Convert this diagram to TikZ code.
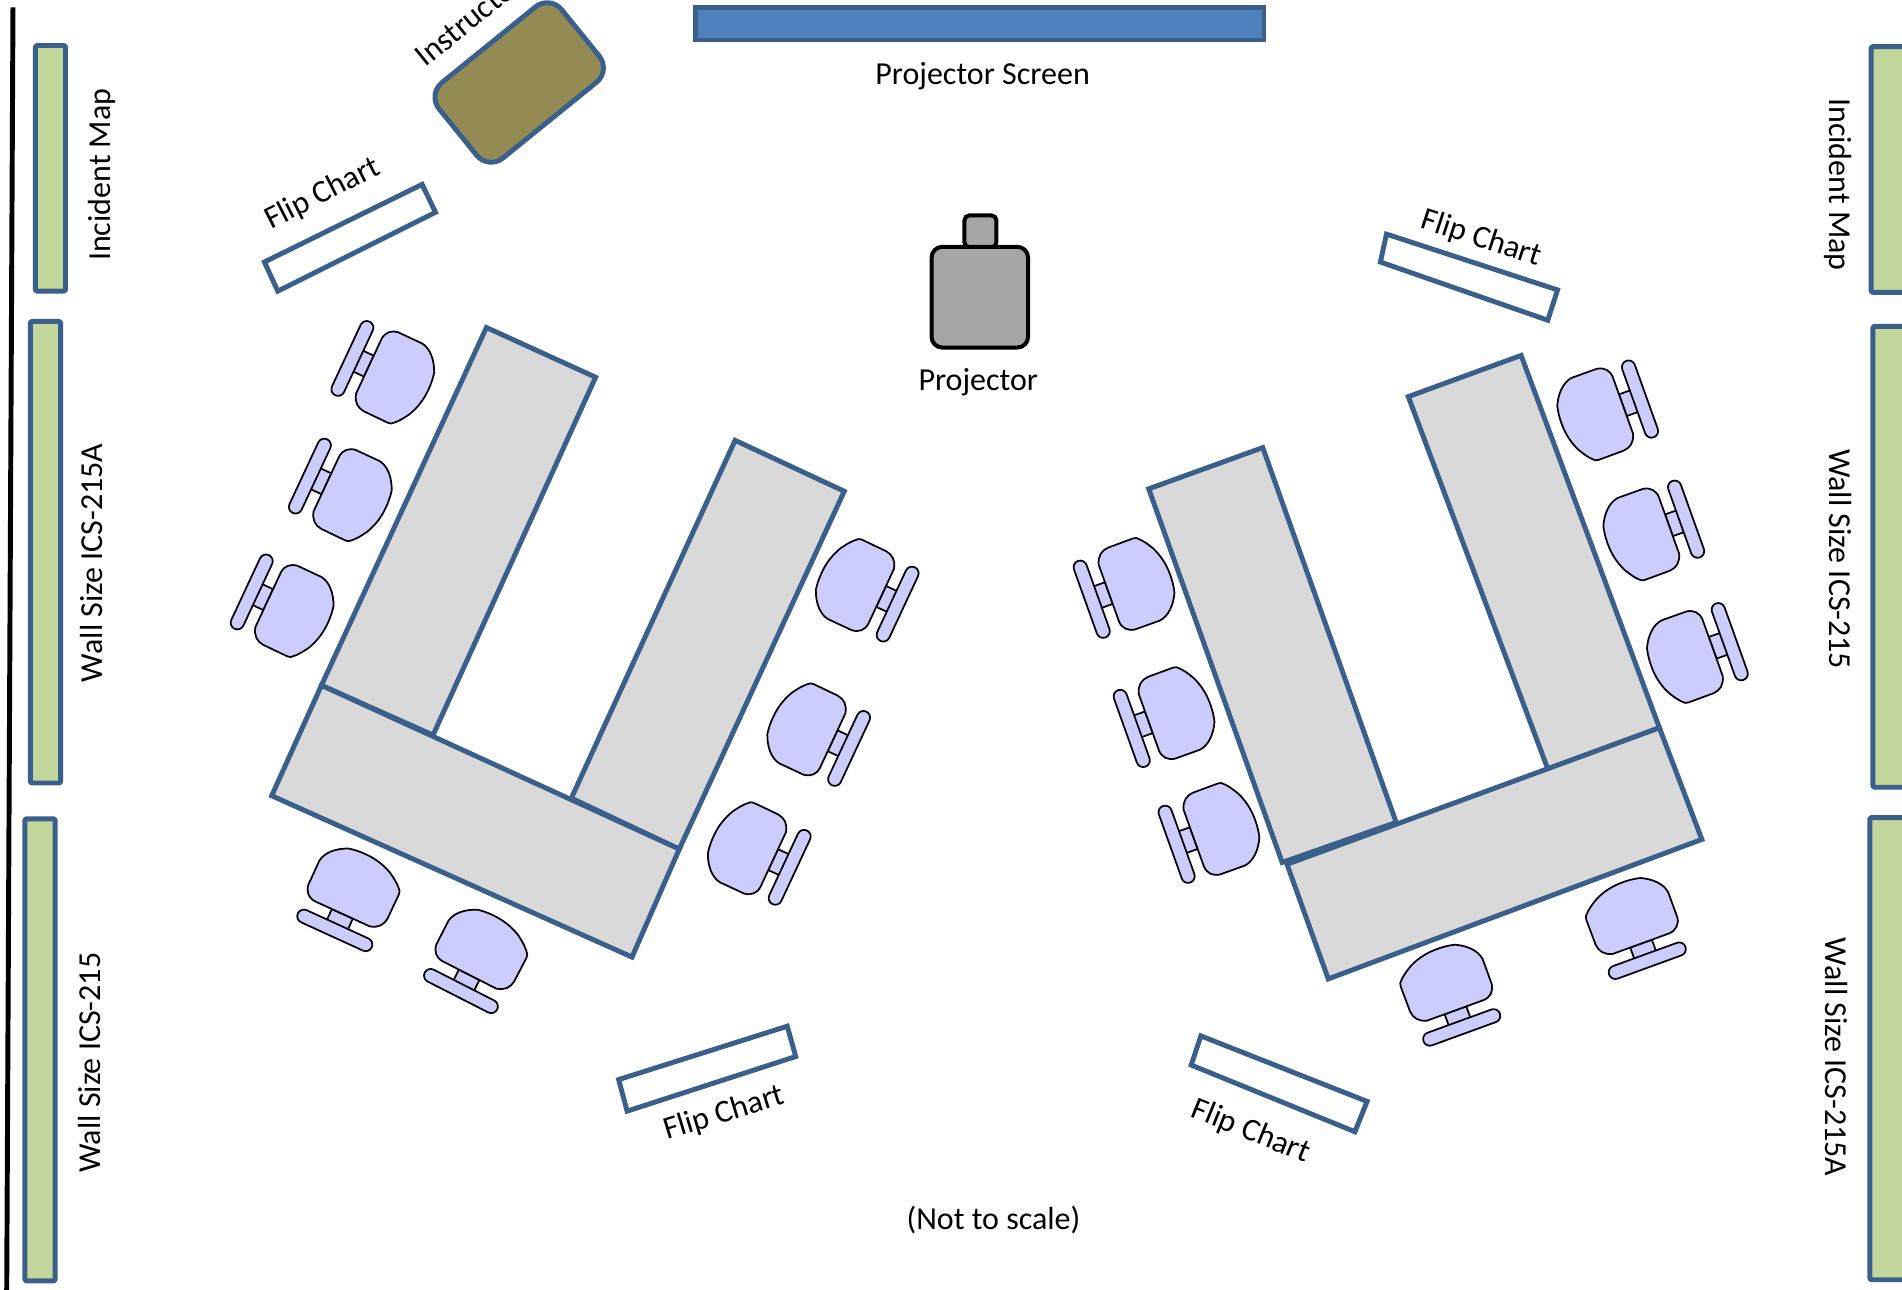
\documentclass[tikz,border=0pt]{standalone}
\usepackage{fontspec}
\setmainfont{Carlito}
\definecolor{edgeblue}{HTML}{3A5F8B}
\definecolor{wallgreen}{HTML}{C3D69B}
\definecolor{screenblue}{HTML}{4F81BD}
\definecolor{olive}{HTML}{948A54}
\definecolor{tablegrey}{HTML}{D9D9D9}
\definecolor{chairblue}{HTML}{CCCCFF}
\definecolor{projgrey}{HTML}{A6A6A6}
\tikzset{
  blueline/.style={draw=edgeblue,line width=3.7pt,line join=round},
  wallboard/.style={blueline,fill=wallgreen,rounded corners=1pt},
  tabletop/.style={blueline,fill=tablegrey,line join=miter},
  flipchart/.style={blueline,fill=white,line join=miter},
  chairline/.style={draw=black,line width=1.3pt,fill=chairblue,line join=round},
  projbody/.style={draw=black,line width=3pt,fill=projgrey,rounded corners=8pt},
  label/.style={font=\fontsize{24}{28}\selectfont,inner sep=0pt,text=black},
  chair/.pic={
    \draw[chairline] (5,-9.5) rectangle (15,9.5);
    \draw[chairline,rounded corners=5pt] (-5.5,-33.5) rectangle (5.5,33.5);
    \draw[chairline] (15,-25) .. controls (15.5,-31) and (19,-34.5) .. (25,-35.5)
      -- (47,-35.5)
      .. controls (55,-34.5) and (62,-27) .. (66,-18)
      .. controls (67.5,-12) and (68,-5) .. (67.5,2)
      .. controls (67,9) and (65,16) .. (62,22)
      .. controls (59,27) and (57,30) .. (54,33)
      .. controls (52.5,35) and (51,35.7) .. (49,35.7)
      -- (27,35.5)
      .. controls (21,35) and (17,32) .. (15,25) -- cycle;
  }
}
\begin{document}
\begin{tikzpicture}[x=0.9098pt,y=-0.9098pt]
\useasboundingbox (0,0) rectangle (1568,1063.4);
% wall line
\draw[black,line width=3.7pt] (10.7,6) -- (5.5,1070);
% wall boards
\draw[wallboard] (29.2,37.5) rectangle (54,240);
\draw[wallboard] (25,265) rectangle (50,645.5);
\draw[wallboard] (20.5,675) rectangle (45.5,1056);
\draw[wallboard] (1542.5,38.5) rectangle (1575,241);
\draw[wallboard] (1544,269) rectangle (1577,649);
\draw[wallboard] (1541.5,674) rectangle (1575,1055);
% screen
\draw[blueline,fill=screenblue,line join=miter] (573,6.5) rectangle (1042,33);
% instructor table
\begin{scope}[shift={(428,68)},rotate=39]
\draw[blueline,fill=olive,rounded corners=14pt] (-65,-40) rectangle (65,40);
\end{scope}
% flip charts
\draw[flipchart] (218,216) -- (348,152) -- (359,175) -- (229,240) -- cycle;
\draw[flipchart] (1143,193) -- (1284,239) -- (1276,264) -- (1138,216) -- cycle;
\draw[flipchart] (510,890) -- (649,846) -- (656,871) -- (517,916) -- cycle;
\draw[flipchart] (990,854) -- (1127,908) -- (1117,933) -- (982,878) -- cycle;
% projector
\draw[projbody,rounded corners=4pt] (795,177.5) rectangle (821.5,204);
\draw[projbody] (768,203.5) rectangle (847.5,286.5);
% left tables
\draw[tabletop] (401,270) -- (491,311) -- (357,606) -- (265,565) -- cycle;
\draw[tabletop] (606,363) -- (696,405) -- (560,700) -- (471,658) -- cycle;
\draw[tabletop] (265,565) -- (560,700) -- (521,789) -- (224,656) -- cycle;
% right tables
\draw[tabletop] (947,403) -- (1041,369) -- (1151,678) -- (1057,711) -- cycle;
\draw[tabletop] (1161,327) -- (1254,293) -- (1368,600) -- (1276,634) -- cycle;
\draw[tabletop] (1368,600) -- (1403,692) -- (1095,807) -- (1061,712.5) -- cycle;
% chairs, left group
\pic[rotate=-25] at (290.5,295.5) {chair};
\pic[rotate=-25] at (255.5,392.5) {chair};
\pic[rotate=-25] at (207.5,488) {chair};
\pic[rotate=155] at (740,498) {chair};
\pic[rotate=155] at (700,617) {chair};
\pic[rotate=155] at (651,715) {chair};
\pic[rotate=65.4] at (276,767) {chair};
\pic[rotate=63] at (380,817) {chair};
% chairs, right group (mirrored)
\pic[rotate=199.7,yscale=-1] at (1352,329) {chair};
\pic[rotate=199.7,yscale=-1] at (1390,428) {chair};
\pic[rotate=199.7,yscale=-1] at (1426,529) {chair};
\pic[rotate=19.7,yscale=-1] at (900,494) {chair};
\pic[rotate=19.7,yscale=-1] at (933,600.5) {chair};
\pic[rotate=19.7,yscale=-1] at (970,696) {chair};
\pic[rotate=110,yscale=-1] at (1205,847) {chair};
\pic[rotate=110,yscale=-1] at (1358,792) {chair};
% labels
\node[label] (screenlabel) at (810,62.5) {Projector Screen};
\node[label] (projectorlabel) at (806.5,315.5) {Projector};
\node[label] (scalenote) at (819,1005.5) {(Not to scale)};
\node[label,rotate=39,anchor=base west] (instructorlabel) at (351,56) {Instructor};
\node[label,rotate=90] (mapleft) at (84,144) {Incident Map};
\node[label,rotate=90] (wallleftA) at (75.5,464) {Wall Size ICS-215A};
\node[label,rotate=90] (wallleft) at (73.5,876) {Wall Size ICS-215};
\node[label,rotate=-90] (mapright) at (1515,152) {Incident Map};
\node[label,rotate=-90] (wallright) at (1517,461) {Wall Size ICS-215};
\node[label,rotate=-90] (wallrightA) at (1514,871.5) {Wall Size ICS-215A};
\node[label,rotate=27] (flipTL) at (266,160) {Flip Chart};
\node[label,rotate=-18] (flipTR) at (1221,197) {Flip Chart};
\node[label,rotate=17] (flipBL) at (597,918) {Flip Chart};
\node[label,rotate=-22] (flipBR) at (1031,933) {Flip Chart};
\end{tikzpicture}
\end{document}
